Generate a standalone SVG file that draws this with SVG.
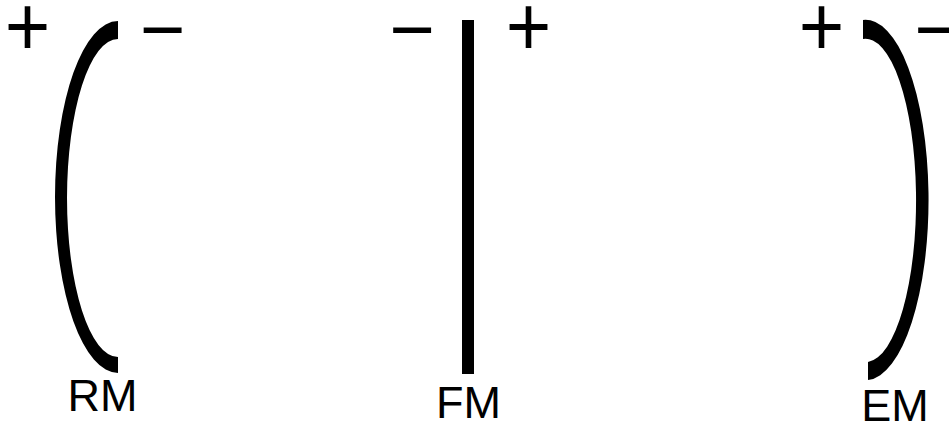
<svg xmlns="http://www.w3.org/2000/svg" width="949" height="427" viewBox="0 0 949 427">
<style>
.sign{font-family:"Liberation Sans",Arial,sans-serif;font-size:78px;fill:#000;text-anchor:middle}
.lbl{font-family:"Liberation Sans",Arial,sans-serif;font-size:45px;fill:#000;text-anchor:middle}
.mirror{fill:#000;stroke:none}
</style>
<rect width="949" height="427" fill="#fff"/>
<g id="RM">
<path class="mirror" d="M118,21 A63,176 0 0 0 118,373 L118,357 A51,159 0 0 1 118,39 Z"/>
<text class="sign" transform="translate(27.5,30.5) scale(1,1.1)" x="0" y="23.5">+</text>
<text class="sign" x="162.5" y="55.5">−</text>
<text class="lbl" x="102.5" y="411">RM</text>
</g>
<g id="FM">
<rect class="mirror" x="462" y="20" width="12" height="354"/>
<text class="sign" x="412" y="56">−</text>
<text class="sign" transform="translate(528.5,30.5) scale(1,1.1)" x="0" y="23.5">+</text>
<text class="lbl" x="468.5" y="418">FM</text>
</g>
<g id="EM">
<path class="mirror" d="M863,20 A63,180 0 0 1 868,380 L868,362 A50.5,161.5 0 0 0 863,39 Z"/>
<text class="sign" transform="translate(821.5,30.5) scale(1,1.1)" x="0" y="23.5">+</text>
<text class="sign" x="937" y="56">−</text>
<text class="lbl" x="895" y="421">EM</text>
</g>
<g id="connectors"></g>
</svg>
